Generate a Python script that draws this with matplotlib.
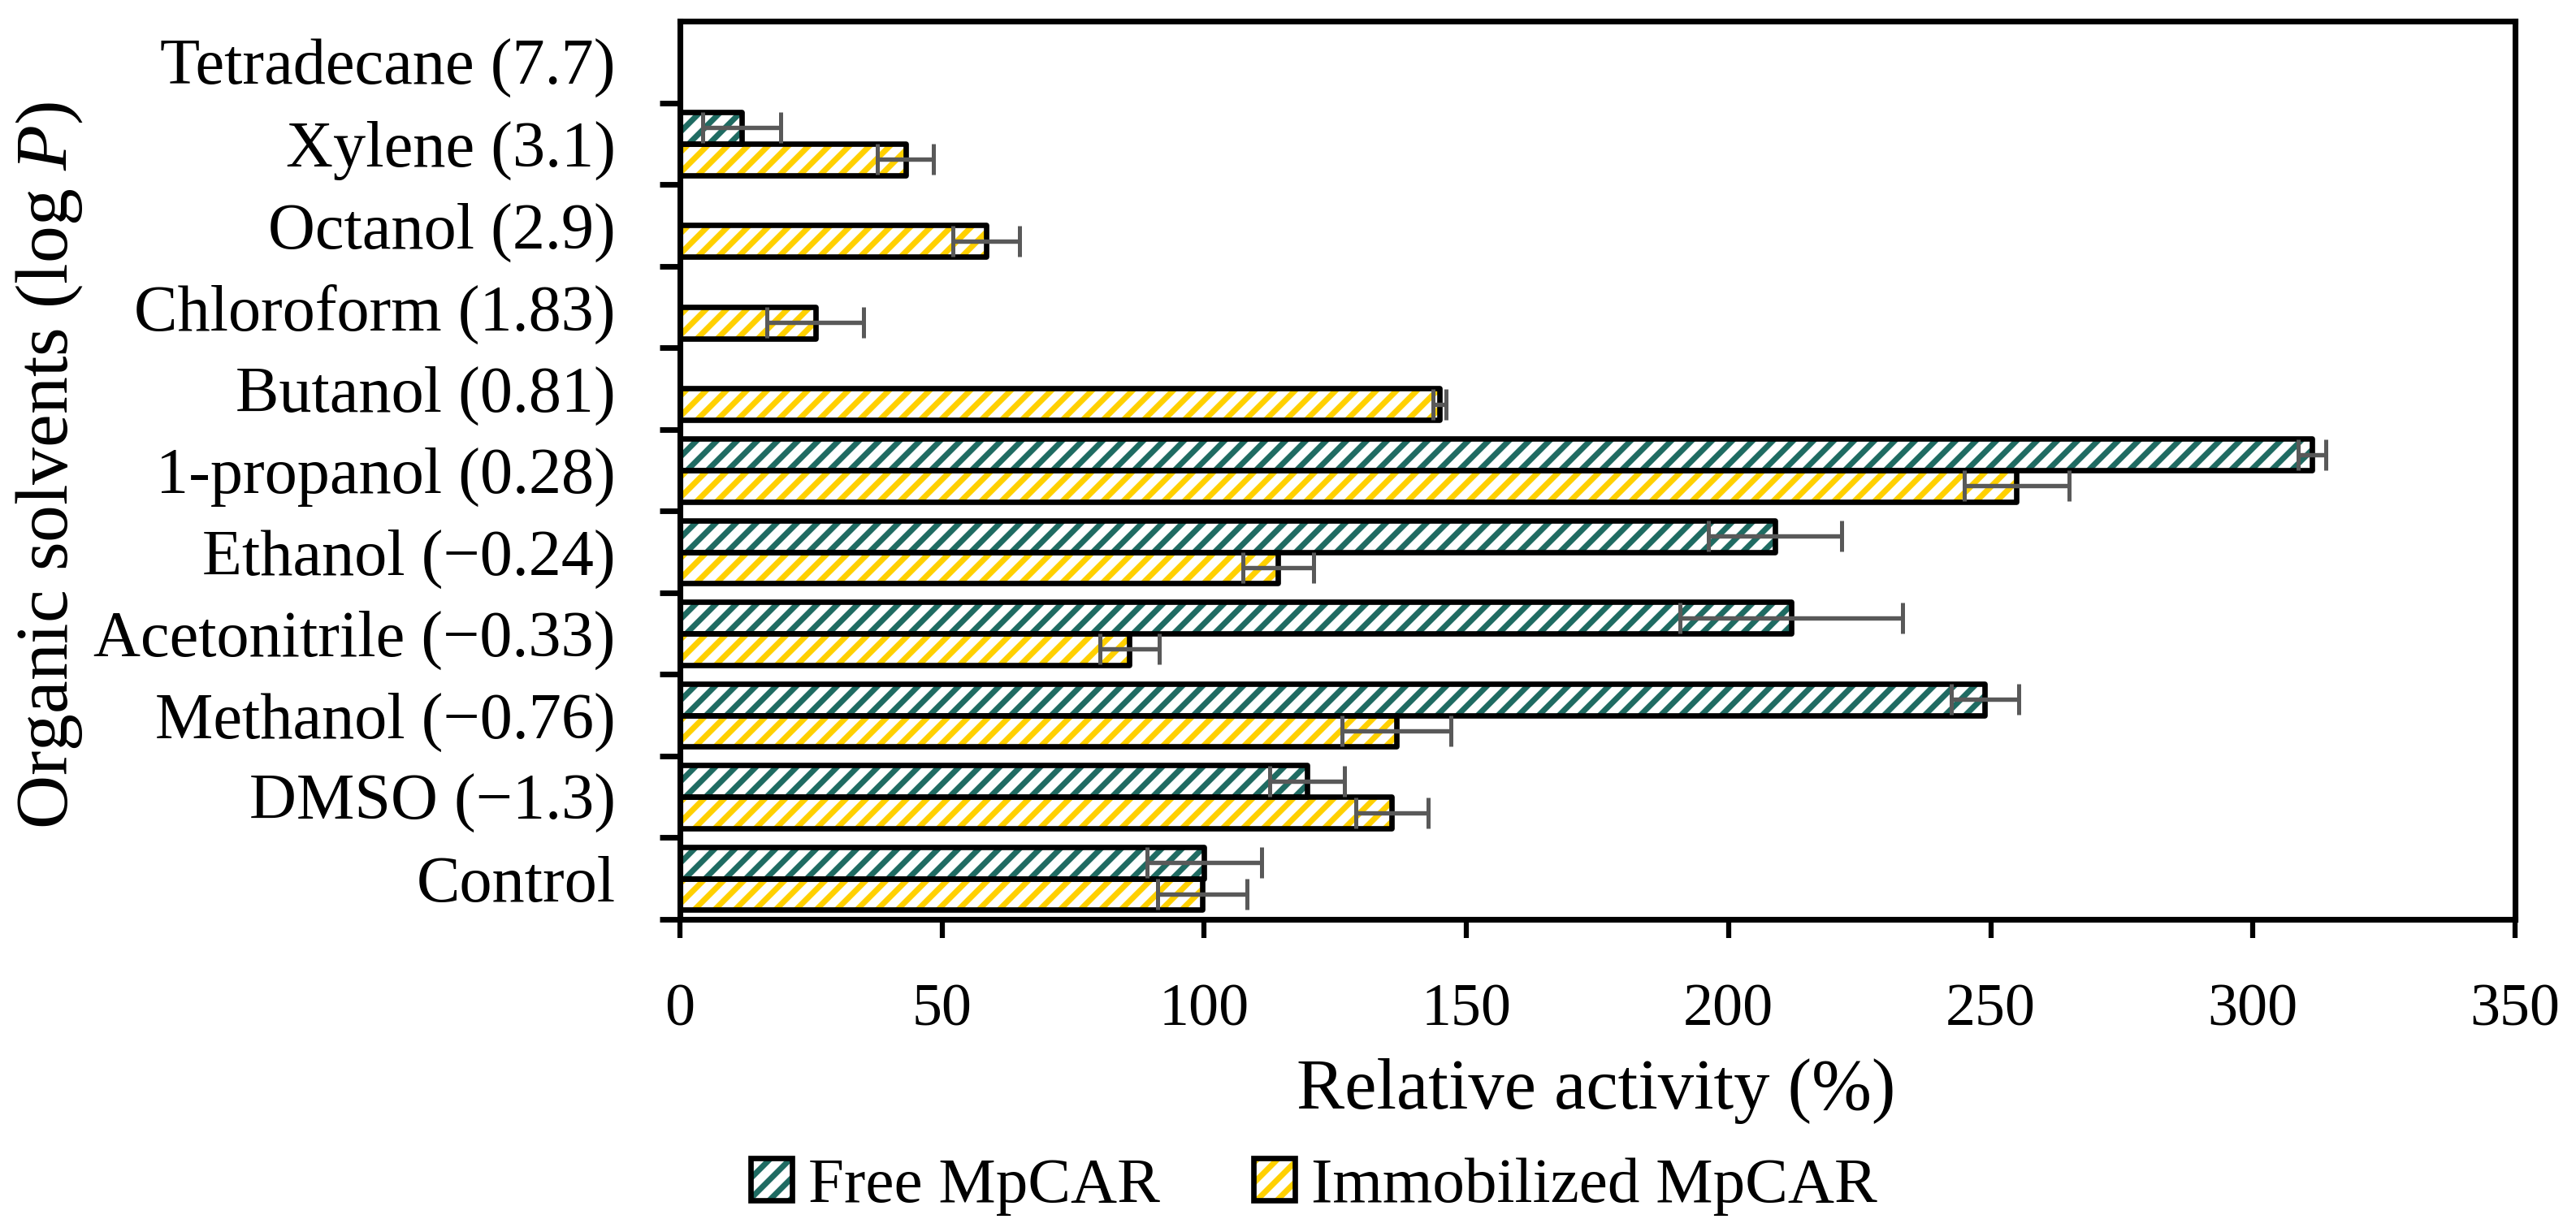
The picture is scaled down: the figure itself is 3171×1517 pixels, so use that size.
import numpy as np
import matplotlib
matplotlib.use("Agg")
import matplotlib.pyplot as plt
from matplotlib.patches import Patch
from matplotlib.ticker import FixedLocator

plt.rcParams["font.family"] = ["Liberation Serif", "DejaVu Serif"]
plt.rcParams["mathtext.fontset"] = "custom"
plt.rcParams["mathtext.rm"] = "Liberation Serif"
plt.rcParams["mathtext.it"] = "Liberation Serif:italic"
plt.rcParams["hatch.linewidth"] = 3.4

# data, listed top to bottom as in the figure
categories = ["Tetradecane (7.7)", "Xylene (3.1)", "Octanol (2.9)", "Chloroform (1.83)",
              "Butanol (0.81)", "1-propanol (0.28)", "Ethanol (\u22120.24)",
              "Acetonitrile (\u22120.33)", "Methanol (\u22120.76)", "DMSO (\u22121.3)", "Control"]
free = [0, 11.8, 0, 0, 0, 311.3, 208.8, 212.0, 248.9, 119.6, 100.0]
free_err = [0, 7.4, 0, 0, 0, 2.6, 12.7, 21.2, 6.5, 7.1, 10.9]
immob = [0, 43.0, 58.4, 25.8, 144.9, 254.9, 114.1, 85.7, 136.6, 135.8, 99.6]
immob_err = [0, 5.3, 6.4, 9.25, 1.2, 10.0, 6.8, 5.65, 10.4, 6.9, 8.5]
xticks = [0, 50, 100, 150, 200, 250, 300, 350]

TEAL = "#1f6b62"
GOLD = "#ffd000"
ERR = "#595959"
BAR_H = 0.385
OFF = 0.1925
EDGE_LW = 3.2

n = len(categories)
y = np.arange(n)[::-1]  # Tetradecane on top

fig = plt.figure(figsize=(3171 / 150, 1517 / 150), dpi=150)
ax = fig.add_axes([837 / 3171, 1 - 1132 / 1517, (3096 - 837) / 3171, (1132 - 26) / 1517])

series = [(free, free_err, TEAL, y + OFF), (immob, immob_err, GOLD, y - OFF)]
for vals, errs, col, ypos in series:
    vals = np.asarray(vals, dtype=float)
    errs = np.asarray(errs, dtype=float)
    ax.barh(ypos, vals, height=BAR_H, color="white", edgecolor=col, hatch="//",
            linewidth=0, zorder=1)
    ax.barh(ypos, vals, height=BAR_H, fill=False, edgecolor="black",
            linewidth=EDGE_LW, joinstyle="round", zorder=1.5)
    m = vals > 0
    ax.errorbar(vals[m], ypos[m], xerr=errs[m], fmt="none", ecolor=ERR,
                elinewidth=2.6, capsize=9, capthick=2.4, zorder=3)

ax.set_xlim(0, 350)
ax.set_ylim(-0.5, n - 0.5)
ax.set_xticks(xticks)
ax.set_xticklabels([str(t) for t in xticks], fontsize=35.5)
ax.set_yticks(y)
ax.set_yticklabels(categories, fontsize=38.5)
ax.yaxis.set_minor_locator(FixedLocator(np.arange(-0.5, n - 1, 1.0)))

ax.tick_params(axis="y", which="major", length=0, pad=38)
ax.tick_params(axis="y", which="minor", length=12, width=3.3, direction="out")
ax.tick_params(axis="x", which="major", length=11, width=3.0, direction="out", pad=27)

for sp in ax.spines.values():
    sp.set_linewidth(3.4)

fig.text(0.6195, 1 - 1344 / 1517, "Relative activity (%)", fontsize=42.5,
         ha="center", va="center")
fig.text(0.019, 1 - 573 / 1517, "Organic solvents (log $\\mathit{P}$)", fontsize=44,
         rotation=90, ha="center", va="center")

handles = [
    (Patch(facecolor="white", edgecolor=TEAL, hatch="//", linewidth=0),
     Patch(fill=False, edgecolor="black", linewidth=EDGE_LW)),
    (Patch(facecolor="white", edgecolor=GOLD, hatch="//", linewidth=0),
     Patch(fill=False, edgecolor="black", linewidth=EDGE_LW)),
]
fig.legend(handles, ["Free MpCAR", "Immobilized MpCAR"], loc="center",
           bbox_to_anchor=(0.51, 1 - 1461 / 1517), ncol=2, frameon=False,
           fontsize=38, handlelength=0.65, handleheight=0.65,
           handletextpad=0.25, columnspacing=1.45)

fig.savefig("out.png", dpi=150)
